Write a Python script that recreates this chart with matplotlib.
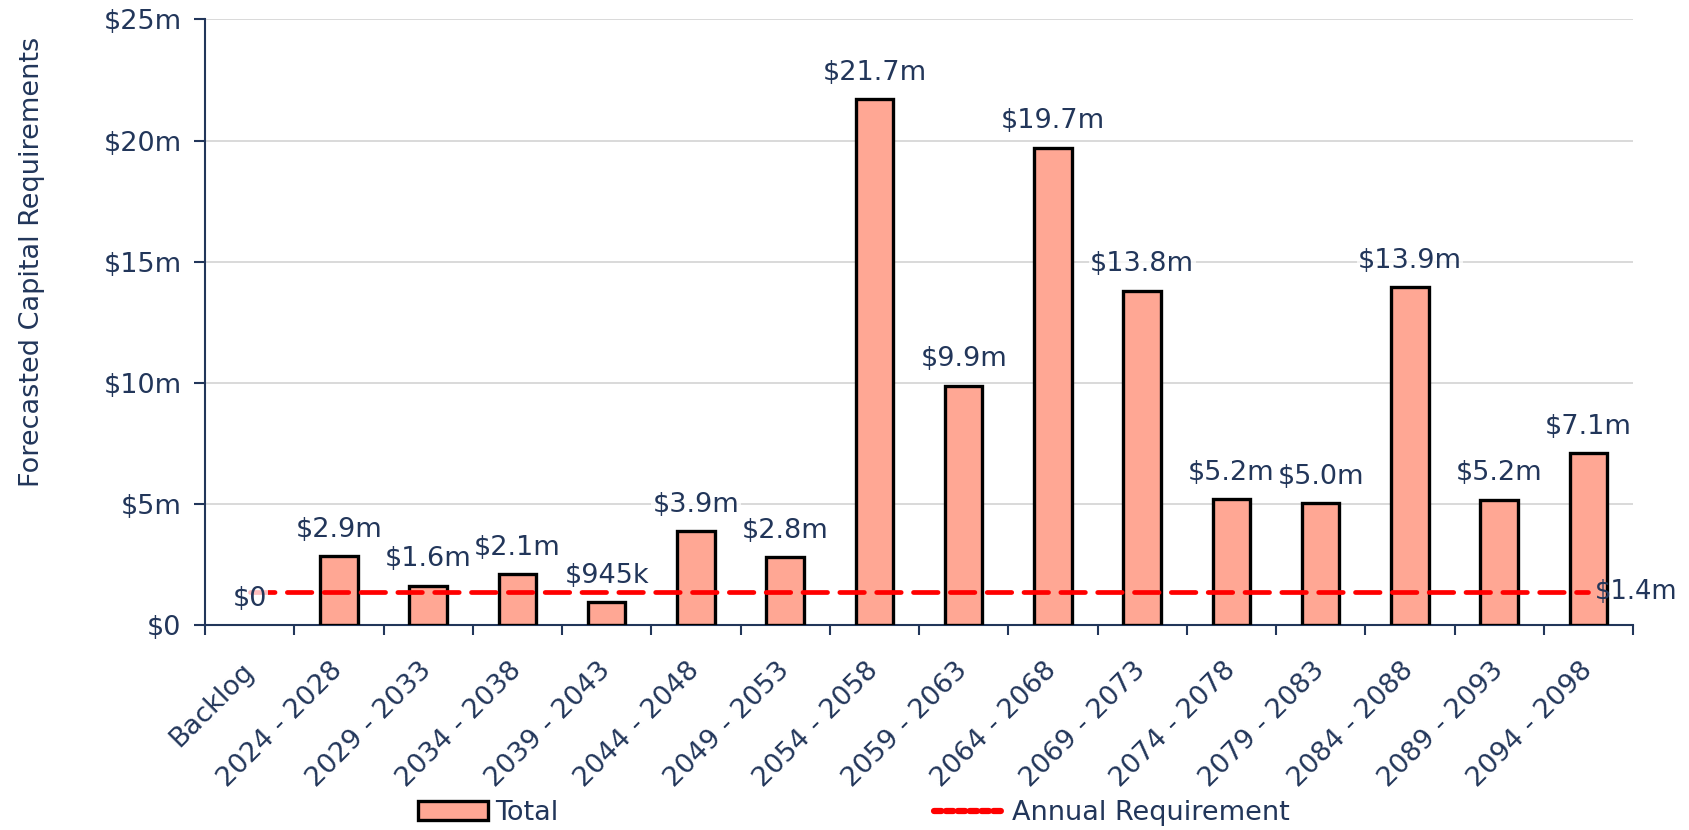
import numpy as np
import matplotlib.pyplot as plt
from matplotlib.patches import Patch
from matplotlib.lines import Line2D

categories = ['Backlog', '2024 - 2028', '2029 - 2033', '2034 - 2038', '2039 - 2043',
              '2044 - 2048', '2049 - 2053', '2054 - 2058', '2059 - 2063', '2064 - 2068',
              '2069 - 2073', '2074 - 2078', '2079 - 2083', '2084 - 2088', '2089 - 2093',
              '2094 - 2098']
totals = [0.0, 2.85, 1.62, 2.1, 0.945, 3.88, 2.8, 21.7, 9.88, 19.7, 13.8, 5.2, 5.02,
          13.95, 5.18, 7.08]
total_labels = ['$0', '$2.9m', '$1.6m', '$2.1m', '$945k', '$3.9m', '$2.8m', '$21.7m',
                '$9.9m', '$19.7m', '$13.8m', '$5.2m', '$5.0m', '$13.9m', '$5.2m', '$7.1m']
annual_req = 1.38
annual_label = '$1.4m'
yticks = [0, 5, 10, 15, 20, 25]
ytick_labels = ['$0', '$5m', '$10m', '$15m', '$20m', '$25m']

navy = '#22365a'
bar_col = '#ffa794'
fs = 19.5

plt.rcParams['font.family'] = 'DejaVu Sans'

fig = plt.figure(figsize=(16.9, 8.3), dpi=100)
ax = fig.add_axes([0.1213, 0.247, 0.845, 0.7296])

x = np.arange(len(categories))
# zero bars get no outline (Backlog shows nothing in the original)
lw = [0 if v == 0 else 2.4 for v in totals]
ax.bar(x, totals, width=0.42, color=bar_col, edgecolor='black', linewidth=lw, zorder=3)
ax.plot([x[0], x[-1]], [annual_req, annual_req], color='#ff0000', linewidth=3.4,
        linestyle=(0, (5.2, 2.6)), dash_capstyle='round', zorder=4)

for xi, v, lab in zip(x, totals, total_labels):
    ax.annotate(lab, (xi, v), xytext=(0, 19), textcoords='offset points',
                ha='center', va='center', fontsize=fs, color=navy, zorder=5,
                bbox=dict(boxstyle='square,pad=0.05', fc='white', ec='none', alpha=0.75))
ax.annotate(annual_label, (x[-1], annual_req), xytext=(5, 0), textcoords='offset points',
            ha='left', va='center', fontsize=18.5, color=navy, zorder=5)

ax.set_xlim(-0.5, len(categories) - 0.5)
ax.set_ylim(0, 25)
ax.set_yticks(yticks)
ax.set_yticklabels(ytick_labels)
ax.set_xticks(x)
ax.set_xticklabels(categories, rotation=45, ha='right', va='center', rotation_mode='anchor')
ax.set_xticks(np.arange(len(categories) + 1) - 0.5, minor=True)
ax.tick_params(axis='x', which='major', length=0, pad=30, labelsize=fs, labelcolor=navy)
ax.tick_params(axis='x', which='minor', length=7, width=1.5, color=navy)
ax.tick_params(axis='y', length=8, width=1.5, color=navy, labelsize=fs, labelcolor=navy, pad=9)

ax.grid(axis='y', color='#d9d9d9', linewidth=1.4, zorder=0)
ax.set_axisbelow(True)
for s in ['top', 'right']:
    ax.spines[s].set_visible(False)
for s in ['left', 'bottom']:
    ax.spines[s].set_color(navy)
    ax.spines[s].set_linewidth(1.5)

ax.set_ylabel('Forecasted Capital Requirements', fontsize=fs, color=navy)
ax.yaxis.set_label_coords(-0.112, 0.6)

handles = [Patch(facecolor=bar_col, edgecolor='black', linewidth=2.4),
           Line2D([0], [0], color='#ff0000', linewidth=4.5, linestyle=(0, (1.2, 0.7)),
                  dash_capstyle='round')]
fig.legend(handles, ['Total', 'Annual Requirement'], loc='center', ncol=2,
           bbox_to_anchor=(0.505, 1 - 813 / 830), frameon=False, fontsize=fs,
           labelcolor=navy, handlelength=2.6, handletextpad=0.25, columnspacing=13.9)

fig.savefig('out.png', dpi=100)
